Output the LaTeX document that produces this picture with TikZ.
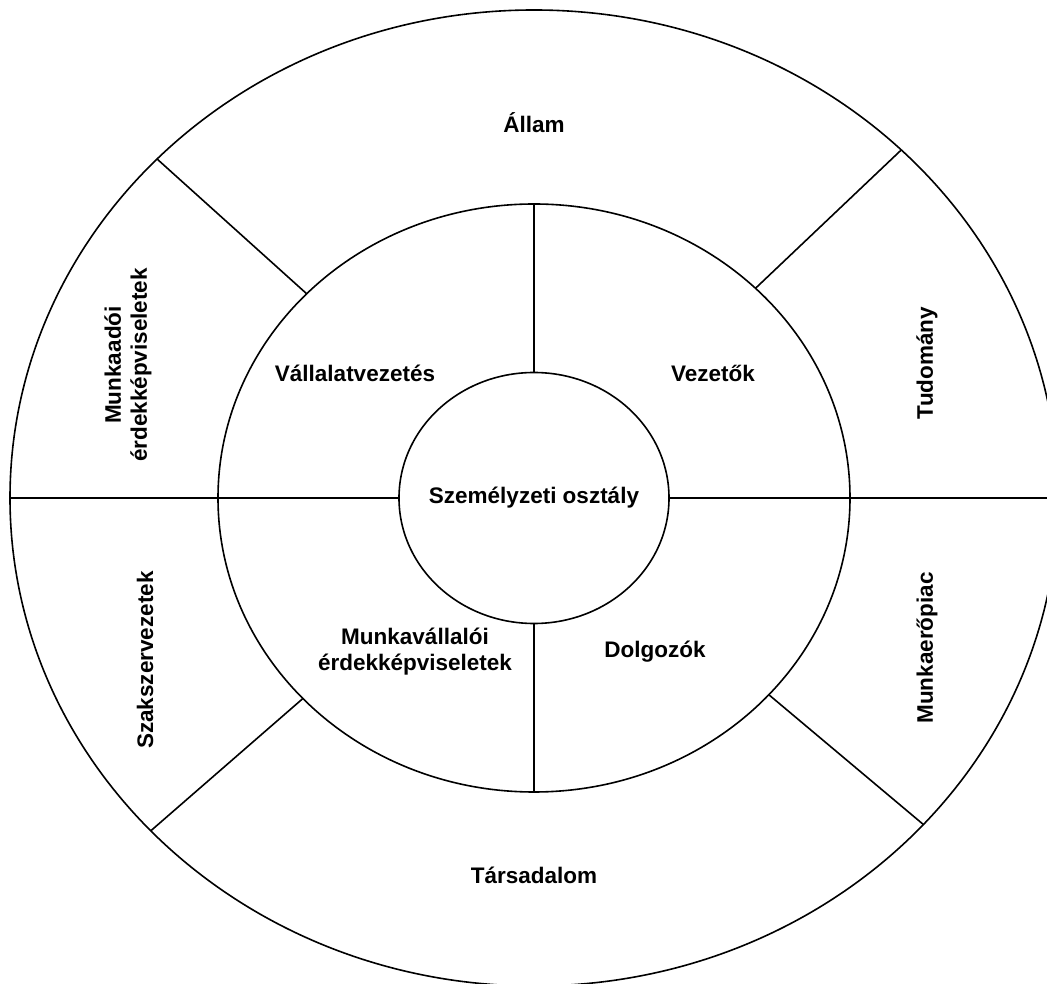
\documentclass[tikz,border=0pt]{standalone}
\usepackage{fontspec}
\setmainfont{Liberation Sans}
\usetikzlibrary{calc}
\begin{document}
\begin{tikzpicture}[x=1pt,y=1pt,
  ring/.style={draw=black,line width=1.6pt},
  divider/.style={draw=black,line width=1.6pt},
  lbl/.style={font=\fontsize{22.5}{26}\selectfont\bfseries,align=center,inner sep=0pt},
  vlbl/.style={lbl,rotate=90}]
\useasboundingbox (0,0) rectangle (1047,983);
\clip (0,0) rectangle (1047,983);

% common centre of the three rings
\coordinate (C) at (534,485);

% rings (slightly flattened circles)
\draw[ring] (C) ellipse [x radius=524, y radius=488];
\draw[ring] (C) ellipse [x radius=316, y radius=294];
\draw[ring] (C) ellipse [x radius=135, y radius=125.5];

% points on the rings where the dividers start and end
\coordinate (oW) at ($(C)+(180:524 and 488)$);
\coordinate (oE) at ($(C)+(0:524 and 488)$);
\coordinate (iW) at ($(C)+(180:135 and 125.5)$);
\coordinate (iE) at ($(C)+(0:135 and 125.5)$);
\coordinate (iN) at ($(C)+(90:135 and 125.5)$);
\coordinate (iS) at ($(C)+(270:135 and 125.5)$);
\coordinate (mN) at ($(C)+(90:316 and 294)$);
\coordinate (mS) at ($(C)+(270:316 and 294)$);
\coordinate (mNW) at ($(C)+(136:316 and 294)$);
\coordinate (oNW) at ($(C)+(136:524 and 488)$);
\coordinate (mNE) at ($(C)+(45.5:316 and 294)$);
\coordinate (oNE) at ($(C)+(45.5:524 and 488)$);
\coordinate (mSE) at ($(C)+(-42:316 and 294)$);
\coordinate (oSE) at ($(C)+(-42:524 and 488)$);
\coordinate (mSW) at ($(C)+(223:316 and 294)$);
\coordinate (oSW) at ($(C)+(223:524 and 488)$);

% dividers
\draw[divider] (oW) -- (iW);
\draw[divider] (iE) -- (oE);
\draw[divider] (mN) -- (iN);
\draw[divider] (iS) -- (mS);
\draw[divider] (mNW) -- (oNW);
\draw[divider] (mNE) -- (oNE);
\draw[divider] (mSE) -- (oSE);
\draw[divider] (mSW) -- (oSW);

% labels
\node[lbl] (center) at (534,485) {Személyzeti osztály};
\node[lbl] (vv) at (355,610) {Vállalatvezetés};
\node[lbl] (vez) at (713,610) {Vezetők};
\node[lbl] (mve) at (415,331) {Munkavállalói\\érdekképviseletek};
\node[lbl] (dol) at (655,331) {Dolgozók};
\node[lbl] (all) at (534,860) {Állam};
\node[lbl] (tars) at (534,108) {Társadalom};
\node[vlbl] (tud) at (927,620) {Tudomány};
\node[vlbl] (mep) at (927,335) {Munkaerőpiac};
\node[vlbl] (mae) at (128,618) {Munkaadói\\érdekképviseletek};
\node[vlbl] (szak) at (145,323) {Szakszervezetek};
\end{tikzpicture}
\end{document}
